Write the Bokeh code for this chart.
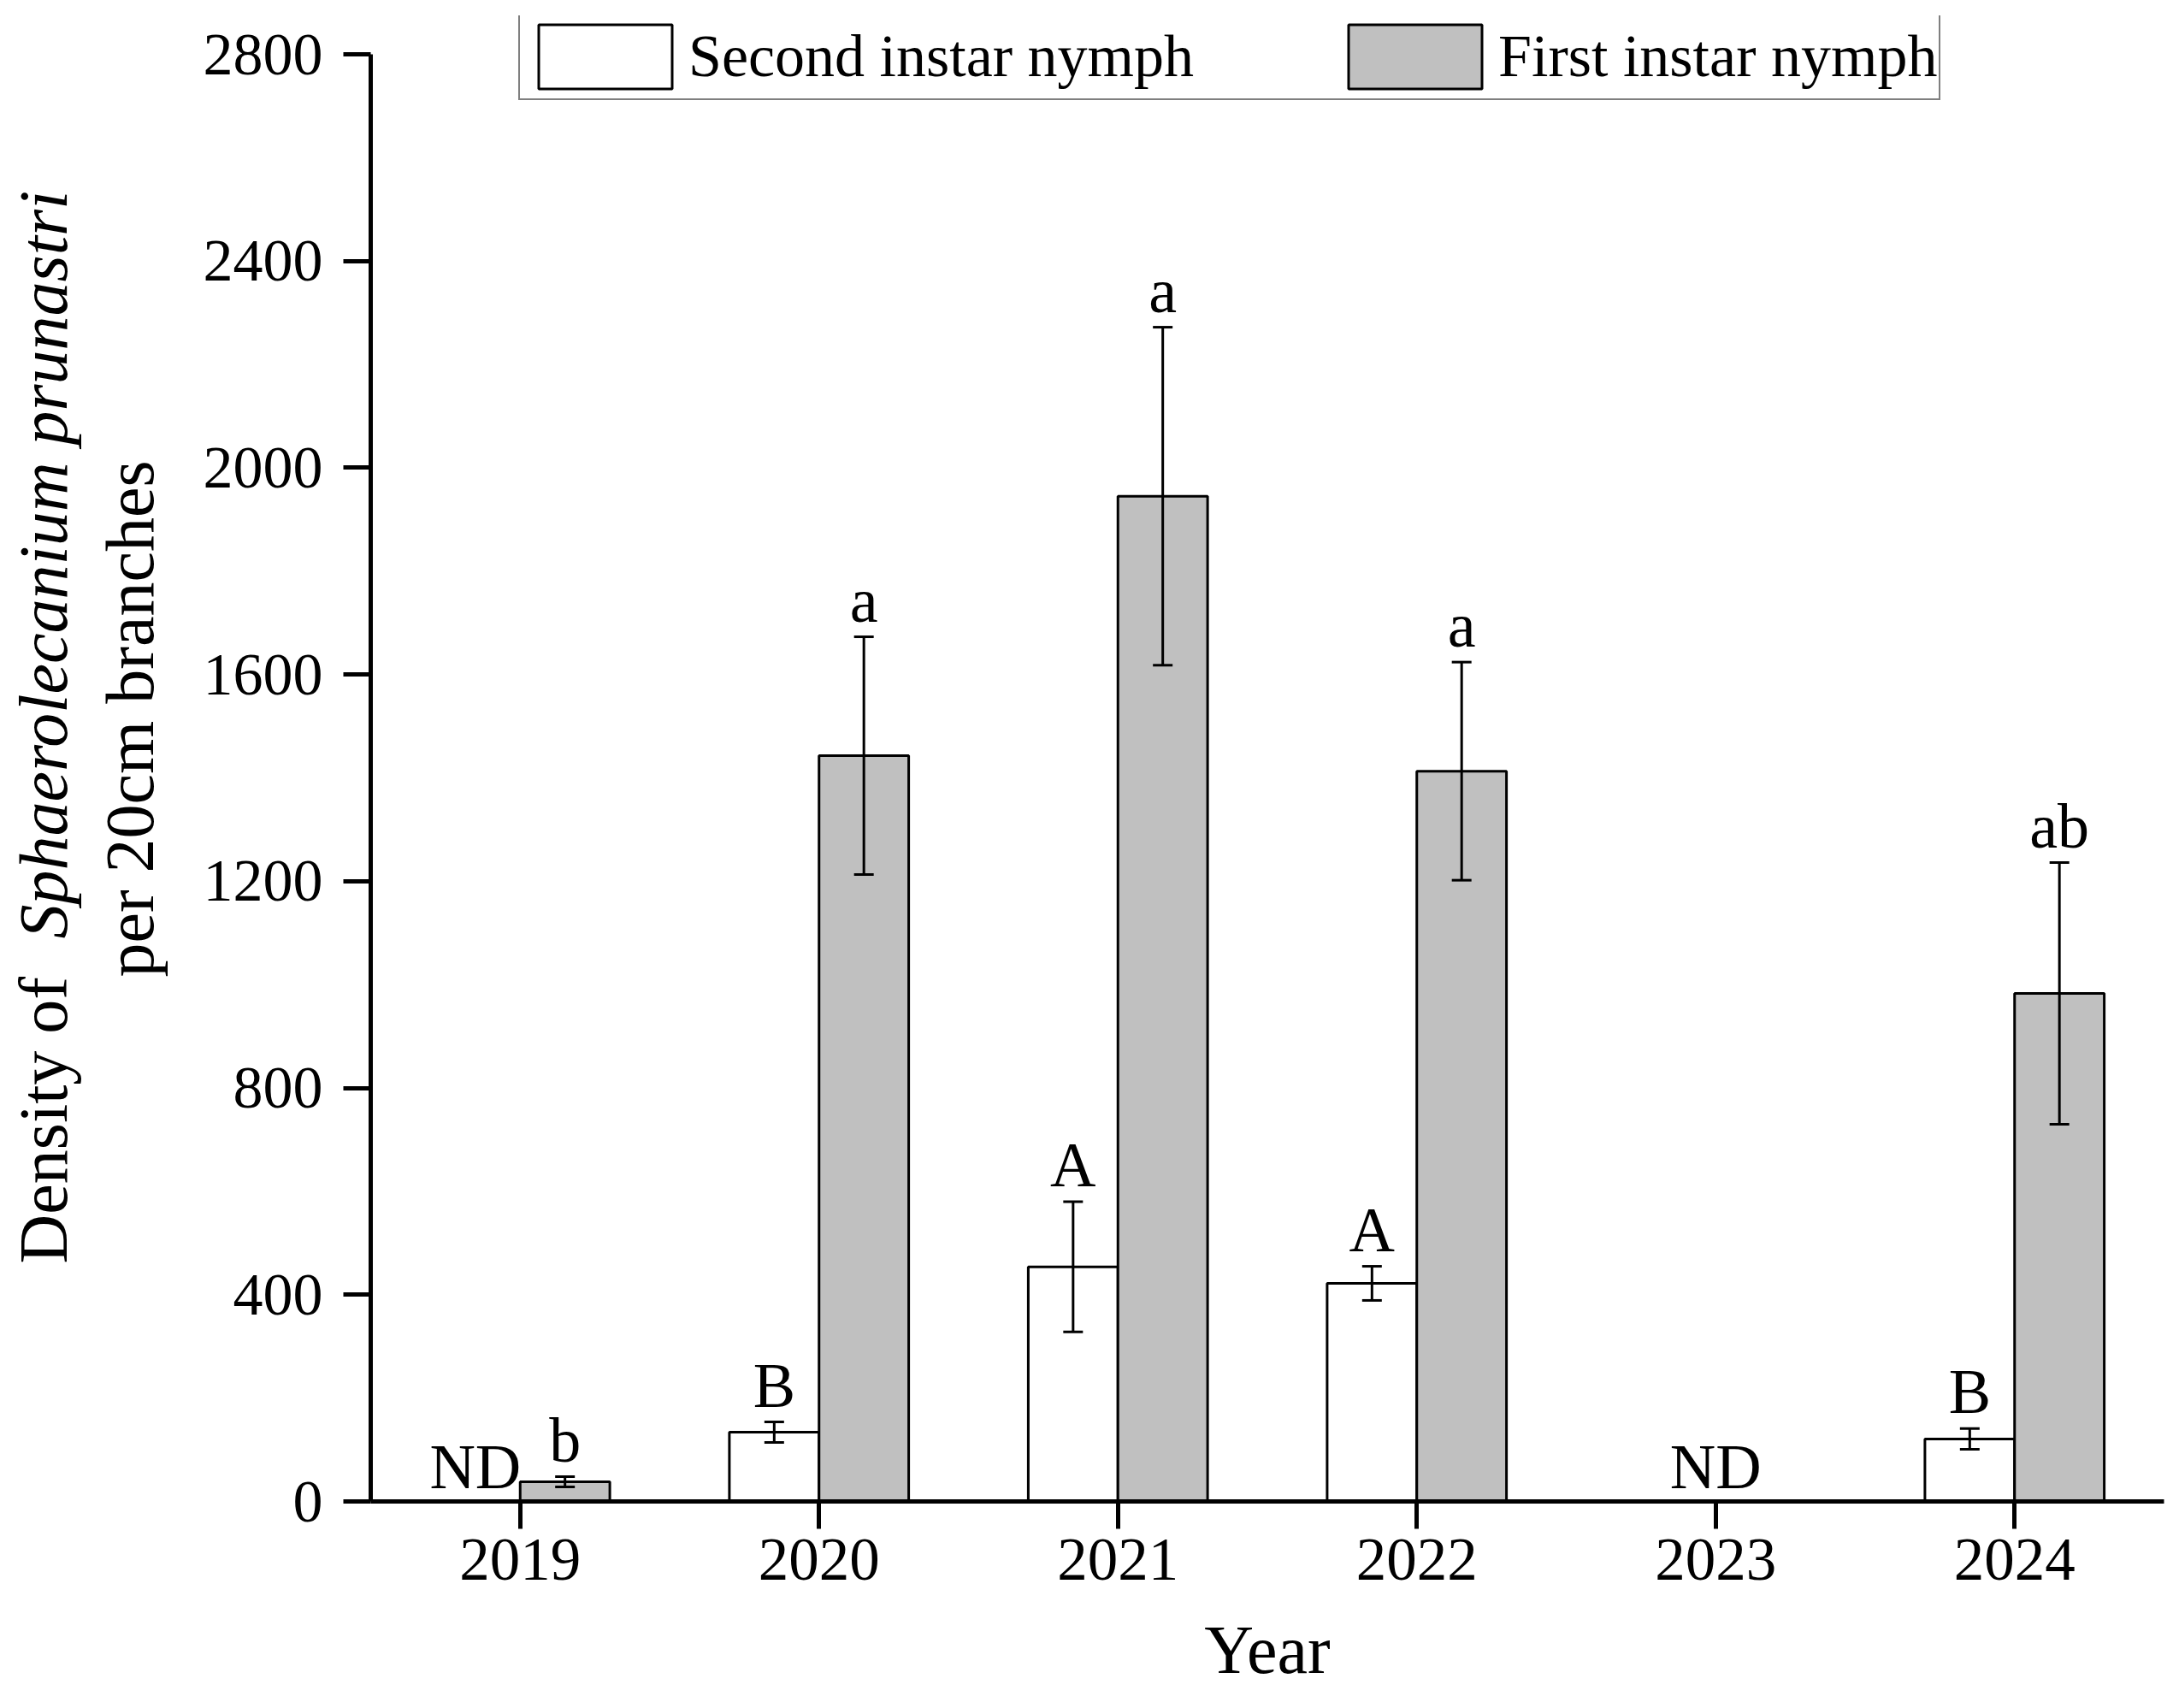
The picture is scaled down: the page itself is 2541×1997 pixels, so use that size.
import math
from bokeh.plotting import figure
from bokeh.layouts import row
from bokeh.models import (Range1d, FixedTicker, Whisker, TeeHead, ColumnDataSource,
                          Legend, LegendItem)
from bokeh.core.properties import value
from bokeh.embed import file_html
from bokeh.resources import INLINE

# ---------------- data ----------------
years = ["2019", "2020", "2021", "2022", "2023", "2024"]
second_mean = [0, 134, 454, 422, 0, 121]
second_err = [0, 20, 126, 33, 0, 20]
first_mean = [38, 1443, 1945, 1413, 0, 983]
first_err = [10, 230, 327, 211, 0, 253]
second_letters = ["ND", "B", "A", "A", "ND", "B"]
first_letters = ["b", "a", "a", "a", "", "ab"]
y_ticks = [0, 400, 800, 1200, 1600, 2000, 2400, 2800]

# ---------------- style ----------------
FONT = "Liberation Serif"
BAR_W = 0.30
GREY = "#c0c0c0"
LETTER_PAD = 3
ND_PAD = 0
LEFT_W = 225
TOTAL_W = 2535
TOTAL_H = 1990
FRAME_TOP = 18
FRAME_BOTTOM = 1755

# ---------- left panel holding the two-line y title ----------
lab = figure(width=LEFT_W, height=TOTAL_H, x_range=Range1d(0, LEFT_W),
             y_range=Range1d(FRAME_BOTTOM, FRAME_TOP),
             output_backend="svg", toolbar_location=None, min_border=0,
             x_axis_location=None, y_axis_location=None)
lab.outline_line_color = None
lab.xgrid.visible = False
lab.ygrid.visible = False
lab.text(x=[50], y=[1477], text=["Density of"], angle=math.pi / 2,
         text_font=value(FONT), text_font_size="80px", text_align="left",
         text_baseline="middle", text_color="black")
lab.text(x=[50], y=[1097], text=["Sphaerolecanium prunastri"], angle=math.pi / 2,
         text_font=value(FONT), text_font_size="80px", text_font_style="italic",
         text_align="left", text_baseline="middle", text_color="black")
lab.text(x=[151], y=[840], text=["per 20cm branches"], angle=math.pi / 2,
         text_font=value(FONT), text_font_size="80px", text_align="center",
         text_baseline="middle", text_color="black")

# ---------- main chart ----------
p = figure(width=TOTAL_W - LEFT_W, height=TOTAL_H, x_range=Range1d(-0.5, 5.5),
           y_range=Range1d(0, 2874.5), output_backend="svg", toolbar_location=None,
           min_border_left=433 - LEFT_W, min_border_right=5, min_border_top=FRAME_TOP,
           min_border_bottom=TOTAL_H - FRAME_BOTTOM)
p.outline_line_color = None
p.xgrid.visible = False
p.ygrid.visible = False

idx = list(range(len(years)))

s_idx = [i for i in idx if second_mean[i] > 0]
s_src = ColumnDataSource(dict(
    x=[i - BAR_W / 2 for i in s_idx],
    top=[second_mean[i] for i in s_idx],
    upper=[second_mean[i] + second_err[i] for i in s_idx],
    lower=[second_mean[i] - second_err[i] for i in s_idx],
))
r2 = p.vbar(x="x", top="top", bottom=0, width=BAR_W, source=s_src,
            fill_color="white", line_color="black", line_width=3)

f_idx = [i for i in idx if first_mean[i] > 0]
f_src = ColumnDataSource(dict(
    x=[i + BAR_W / 2 for i in f_idx],
    top=[first_mean[i] for i in f_idx],
    upper=[first_mean[i] + first_err[i] for i in f_idx],
    lower=[first_mean[i] - first_err[i] for i in f_idx],
))
r1 = p.vbar(x="x", top="top", bottom=0, width=BAR_W, source=f_src,
            fill_color=GREY, line_color="black", line_width=3)

for src in (s_src, f_src):
    w = Whisker(source=src, base="x", upper="upper", lower="lower", dimension="height",
                line_color="black", line_width=3, level="overlay",
                upper_head=TeeHead(size=23, line_color="black", line_width=3),
                lower_head=TeeHead(size=23, line_color="black", line_width=3))
    p.add_layout(w)

# significance letters
lx, ly, lt = [], [], []
for i in idx:
    if second_letters[i] == "ND":
        both_nd = first_mean[i] == 0
        lx.append(i if both_nd else i - BAR_W / 2)
        ly.append(ND_PAD)
        lt.append("ND")
    elif second_letters[i]:
        lx.append(i - BAR_W / 2)
        ly.append(second_mean[i] + second_err[i] + LETTER_PAD)
        lt.append(second_letters[i])
    if first_letters[i]:
        lx.append(i + BAR_W / 2)
        ly.append(first_mean[i] + first_err[i] + LETTER_PAD)
        lt.append(first_letters[i])
p.text(x=lx, y=ly, text=lt, text_font=value(FONT), text_font_size="74px",
       text_align="center", text_baseline="bottom", text_color="black")

# axes
xa = p.xaxis[0]
xa.ticker = FixedTicker(ticks=idx)
xa.major_label_overrides = {i: years[i] for i in idx}
xa.major_label_text_font = FONT
xa.major_label_text_font_size = "71px"
xa.major_label_text_color = "black"
xa.major_label_standoff = 12
xa.axis_line_width = 5
xa.axis_line_color = "black"
xa.major_tick_line_width = 5
xa.major_tick_line_color = "black"
xa.major_tick_out = 32
xa.major_tick_in = 0
xa.minor_tick_line_color = None
xa.axis_label = "Year"
xa.axis_label_text_font = FONT
xa.axis_label_text_font_size = "80px"
xa.axis_label_text_font_style = "normal"
xa.axis_label_text_color = "black"
xa.axis_label_standoff = 35

ya = p.yaxis[0]
ya.ticker = FixedTicker(ticks=y_ticks)
ya.bounds = (0, 2800)
ya.major_label_text_font = FONT
ya.major_label_text_font_size = "70px"
ya.major_label_text_color = "black"
ya.major_label_standoff = 24
ya.axis_line_width = 5
ya.axis_line_color = "black"
ya.major_tick_line_width = 5
ya.major_tick_line_color = "black"
ya.major_tick_out = 32
ya.major_tick_in = 0
ya.minor_tick_line_color = None

legend = Legend(items=[LegendItem(label="Second instar nymph", renderers=[r2]),
                       LegendItem(label="First instar nymph", renderers=[r1])],
                location=(173, 1638), orientation="horizontal",
                glyph_width=195, glyph_height=94, label_standoff=0, spacing=161,
                padding=2, margin=0, border_line_color="black", border_line_width=2,
                label_text_font=FONT, label_text_font_size="70px", label_text_color="black",
                background_fill_color="white", background_fill_alpha=1.0)
p.add_layout(legend)

layout = row(lab, p)
open("out.html", "w").write(file_html(layout, INLINE))
